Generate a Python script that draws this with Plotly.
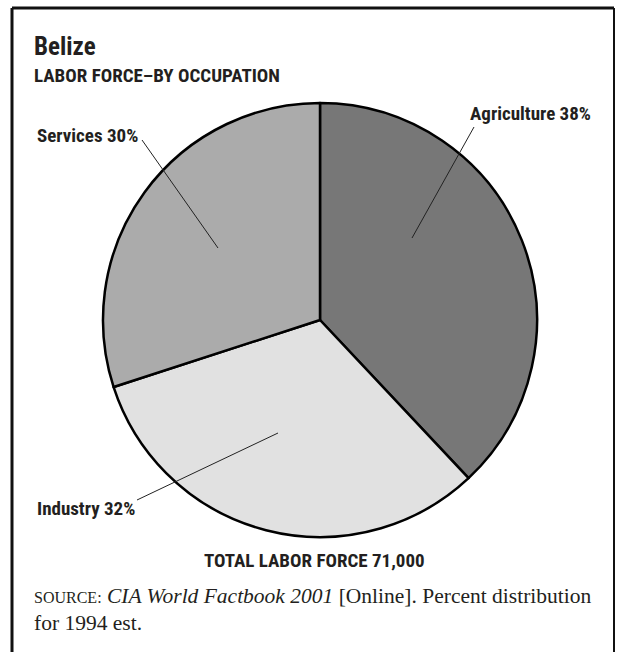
import plotly.graph_objects as go

# Belize labor force by occupation (1994 est.)
sectors = ["Agriculture", "Industry", "Services"]
shares = [38, 32, 30]
fills = ["#777777", "#e1e1e1", "#ababab"]

W, H = 617, 652
COND = "Roboto Condensed, Liberation Sans Narrow, DejaVu Sans Condensed, sans-serif"
SERIF = "Liberation Serif, Times New Roman, serif"
INK = "#231f20"


def px(x):
    return x / W


def py(y):
    return 1 - y / H


fig = go.Figure(
    go.Pie(
        labels=sectors,
        values=shares,
        sort=False,
        direction="clockwise",
        rotation=0,
        marker=dict(colors=fills, line=dict(color="#000000", width=2.5)),
        textinfo="none",
        hoverinfo="label+percent",
        showlegend=False,
        domain=dict(x=[px(103), px(537)], y=[py(537), py(103)]),
    )
)

# label text placement and leader lines (pixel positions)
label_pos = {
    "Agriculture": dict(x=593, y=113, xanchor="right", line=((474, 127), (412, 238))),
    "Industry": dict(x=35, y=508, xanchor="left", line=((137, 500), (278, 433))),
    "Services": dict(x=35, y=135, xanchor="left", line=((142, 140), (218, 248))),
}

annotations = []
shapes = []
for name, val in zip(sectors, shares):
    p = label_pos[name]
    annotations.append(dict(
        x=px(p["x"]), y=py(p["y"]), xref="paper", yref="paper",
        xanchor=p["xanchor"], yanchor="middle", showarrow=False,
        text=f"<b>{name} {val}%</b>",
        font=dict(family=COND, size=19, color=INK),
    ))
    (x0, y0), (x1, y1) = p["line"]
    shapes.append(dict(type="line", xref="paper", yref="paper",
                       x0=px(x0), y0=py(y0), x1=px(x1), y1=py(y1),
                       line=dict(color="#222222", width=1)))

annotations += [
    dict(x=px(32), y=py(46), xref="paper", yref="paper", xanchor="left", yanchor="middle",
         showarrow=False, text="<b>Belize</b>", font=dict(family=COND, size=25, color=INK)),
    dict(x=px(32), y=py(75), xref="paper", yref="paper", xanchor="left", yanchor="middle",
         showarrow=False, text="<b>LABOR FORCE–BY OCCUPATION</b>",
         font=dict(family=COND, size=19, color=INK)),
    dict(x=px(314), y=py(560), xref="paper", yref="paper", xanchor="center", yanchor="middle",
         showarrow=False, text="<b>TOTAL LABOR FORCE 71,000</b>",
         font=dict(family=COND, size=19, color=INK)),
    dict(x=px(32), y=py(596), xref="paper", yref="paper", xanchor="left", yanchor="middle",
         showarrow=False,
         text="<span style='font-size:16px'>SOURCE:</span> <i>CIA World Factbook 2001</i> [Online]. Percent distribution",
         font=dict(family=SERIF, size=21.5, color=INK)),
    dict(x=px(32), y=py(623), xref="paper", yref="paper", xanchor="left", yanchor="middle",
         showarrow=False, text="for 1994 est.",
         font=dict(family=SERIF, size=21.5, color=INK)),
]

# frame: left, top and right edges
frame = [((12, 8), (12, 652), 3), ((12, 8), (614, 8), 3), ((614, 8), (614, 652), 2)]
for (x0, y0), (x1, y1), w in frame:
    shapes.append(dict(type="line", xref="paper", yref="paper",
                       x0=px(x0), y0=py(y0), x1=px(x1), y1=py(y1),
                       line=dict(color="#111111", width=w)))

fig.update_layout(
    width=W, height=H,
    margin=dict(l=0, r=0, t=0, b=0),
    paper_bgcolor="white", plot_bgcolor="white",
    annotations=annotations, shapes=shapes,
)

fig.write_html("out.html")
